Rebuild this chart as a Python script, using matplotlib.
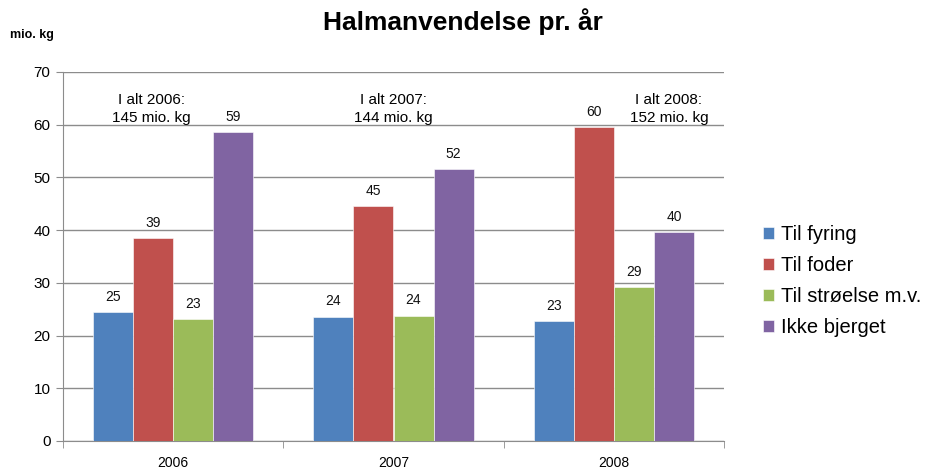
import matplotlib
matplotlib.use("Agg")
import matplotlib.pyplot as plt
import numpy as np

plt.rcParams['font.family'] = ['Liberation Sans', 'DejaVu Sans']

years = ["2006", "2007", "2008"]
series_names = ["Til fyring", "Til foder", "Til strøelse m.v.", "Ikke bjerget"]
fyring = [24.4, 23.6, 22.7]
foder = [38.5, 44.5, 59.5]
stroelse = [23.1, 23.8, 29.2]
ikke = [58.6, 51.6, 39.6]
labels = [["25", "24", "23"], ["39", "45", "60"], ["23", "24", "29"], ["59", "52", "40"]]
totals = ["I alt 2006:\n145 mio. kg", "I alt 2007:\n144 mio. kg", "I alt 2008:\n152 mio. kg"]
total_pos = [-0.1, 1.0, 2.25]
colors = ["#4F81BD", "#C0504D", "#9BBB59", "#8064A2"]

fig = plt.figure(figsize=(9.25, 4.72), dpi=100)
ax = fig.add_axes([63/925, 1-441/472, (724-63)/925, (441-72)/472])

x = np.arange(len(years))
w = 0.182
data = [fyring, foder, stroelse, ikke]
for i, (vals, c, name) in enumerate(zip(data, colors, series_names)):
    pos = x + (i - 1.5) * w
    ax.bar(pos, vals, w, color=c, label=name, edgecolor="white", linewidth=0.4, zorder=3)
    for p, v, lab in zip(pos, vals, labels[i]):
        ax.text(p, v + 1.6, lab, ha="center", va="bottom", fontsize=10, color="#111111", zorder=4)

for xp, t in zip(total_pos, totals):
    ax.text(xp, 60.0, t, ha="center", va="bottom", fontsize=11, linespacing=1.3, zorder=4)

ax.set_xlim(-0.5, 2.5)
ax.set_ylim(0, 70)
ax.set_yticks(range(0, 71, 10))
ax.yaxis.grid(True, color="#8c8c8c", linewidth=1.0, zorder=0)
ax.set_axisbelow(True)
ax.set_xticks(x)
ax.set_xticklabels(years, fontsize=10)
ax.set_xticks([-0.5, 0.5, 1.5, 2.5], minor=True)
ax.tick_params(axis="x", which="major", length=0, pad=11)
ax.tick_params(axis="x", which="minor", length=5, color="#8c8c8c")
ax.tick_params(axis="y", length=5, color="#8c8c8c", labelsize=11, pad=4)
for s in ["top", "right"]:
    ax.spines[s].set_visible(False)
for s in ["left", "bottom"]:
    ax.spines[s].set_color("#8c8c8c")

fig.text(0.5, 1 - 22/472, "Halmanvendelse pr. år", ha="center", va="center", fontsize=19, fontweight="bold")
fig.text(10/925, 1 - 35/472, "mio. kg", ha="left", va="center", fontsize=9, fontweight="bold")

fig.legend(loc="upper left", bbox_to_anchor=(755/925, 1 - 217/472), frameon=False, fontsize=14.5,
           handlelength=0.55, handleheight=0.55, handletextpad=0.35, labelspacing=0.6, borderaxespad=0)

fig.savefig("out.png", dpi=100)
